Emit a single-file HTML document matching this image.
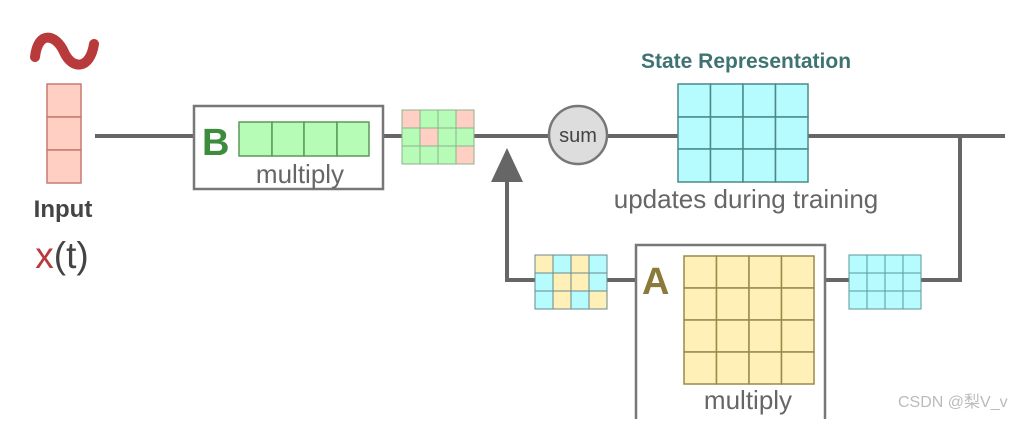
<!DOCTYPE html>
<html><head><meta charset="utf-8"><style>html,body{margin:0;padding:0;background:#fff}</style></head><body>
<svg width="1024" height="419" viewBox="0 0 1024 419" xmlns="http://www.w3.org/2000/svg" font-family="Liberation Sans, sans-serif">
<rect width="1024" height="419" fill="#fff"/>
<g stroke="#666" stroke-width="4" fill="none">
<line x1="95" y1="136" x2="1005" y2="136"/>
<polyline points="960,136 960,280 920,280"/>
<line x1="825" y1="280" x2="849" y2="280"/>
<line x1="607" y1="280" x2="635" y2="280"/>
<polyline points="535,280 507,280 507,178"/>
</g>
<polygon points="507,148 491,182 523,182" fill="#666"/>
<path d="M35,57 C38,30 56,34 64,52 C72,70 90,70 94,44" stroke="#b83a3a" stroke-width="10" fill="none" stroke-linecap="round"/>
<g stroke="#c87a70" stroke-width="1.5" fill="#ffcfc4">
<rect x="47" y="84" width="34" height="33"/><rect x="47" y="117" width="34" height="33"/><rect x="47" y="150" width="34" height="33"/>
</g>
<text x="63" y="217" text-anchor="middle" font-size="24" font-weight="bold" fill="#444">Input</text>
<text x="62" y="268" text-anchor="middle" font-size="37" fill="#444"><tspan fill="#b83a3a">x</tspan>(t)</text>
<rect x="194" y="106" width="189" height="83" fill="#fff" stroke="#777" stroke-width="2.5"/>
<text x="202" y="155" font-size="38" font-weight="bold" fill="#3d8c3d">B</text>
<g stroke="#5a9a5a" stroke-width="1.5" fill="#b6fbb6">
<rect x="239" y="122" width="33" height="34"/><rect x="272" y="122" width="32" height="34"/><rect x="304" y="122" width="33" height="34"/><rect x="337" y="122" width="32" height="34"/>
</g>
<text x="300" y="183" text-anchor="middle" font-size="26" fill="#666">multiply</text>
<g stroke="#8fb08f" stroke-width="1">
<rect x="402" y="110" width="18" height="18" fill="#ffcfc4"/><rect x="420" y="110" width="18" height="18" fill="#b6fbb6"/><rect x="438" y="110" width="18" height="18" fill="#b6fbb6"/><rect x="456" y="110" width="18" height="18" fill="#ffcfc4"/>
<rect x="402" y="128" width="18" height="18" fill="#b6fbb6"/><rect x="420" y="128" width="18" height="18" fill="#ffcfc4"/><rect x="438" y="128" width="18" height="18" fill="#b6fbb6"/><rect x="456" y="128" width="18" height="18" fill="#b6fbb6"/>
<rect x="402" y="146" width="18" height="18" fill="#b6fbb6"/><rect x="420" y="146" width="18" height="18" fill="#b6fbb6"/><rect x="438" y="146" width="18" height="18" fill="#b6fbb6"/><rect x="456" y="146" width="18" height="18" fill="#ffcfc4"/>
</g>
<circle cx="578" cy="135" r="29" fill="#ddd" stroke="#777" stroke-width="2.5"/>
<text x="578" y="142" text-anchor="middle" font-size="20" fill="#444">sum</text>
<text x="746" y="68" text-anchor="middle" font-size="21" font-weight="bold" fill="#3f7272">State Representation</text>
<g stroke="#4c8a8a" stroke-width="1.5" fill="#b6fbfd">
<rect x="678" y="84" width="32.5" height="33"/><rect x="710.5" y="84" width="32.5" height="33"/><rect x="743" y="84" width="32.5" height="33"/><rect x="775.5" y="84" width="32.5" height="33"/>
<rect x="678" y="117" width="32.5" height="32"/><rect x="710.5" y="117" width="32.5" height="32"/><rect x="743" y="117" width="32.5" height="32"/><rect x="775.5" y="117" width="32.5" height="32"/>
<rect x="678" y="149" width="32.5" height="33"/><rect x="710.5" y="149" width="32.5" height="33"/><rect x="743" y="149" width="32.5" height="33"/><rect x="775.5" y="149" width="32.5" height="33"/>
</g>
<text x="746" y="208" text-anchor="middle" font-size="26" fill="#666">updates during training</text>
<g stroke="#6a8a8a" stroke-width="1">
<rect x="535" y="255" width="18" height="18" fill="#fff0b8"/><rect x="553" y="255" width="18" height="18" fill="#b6fbfd"/><rect x="571" y="255" width="18" height="18" fill="#fff0b8"/><rect x="589" y="255" width="18" height="18" fill="#b6fbfd"/>
<rect x="535" y="273" width="18" height="18" fill="#b6fbfd"/><rect x="553" y="273" width="18" height="18" fill="#fff0b8"/><rect x="571" y="273" width="18" height="18" fill="#fff0b8"/><rect x="589" y="273" width="18" height="18" fill="#b6fbfd"/>
<rect x="535" y="291" width="18" height="18" fill="#b6fbfd"/><rect x="553" y="291" width="18" height="18" fill="#fff0b8"/><rect x="571" y="291" width="18" height="18" fill="#b6fbfd"/><rect x="589" y="291" width="18" height="18" fill="#fff0b8"/>
</g>
<rect x="636" y="245" width="189" height="176" fill="#fff" stroke="#777" stroke-width="2.5"/>
<text x="642" y="294" font-size="38" font-weight="bold" fill="#8c7a3a">A</text>
<g stroke="#9a8a4a" stroke-width="1.5" fill="#fff0b8">
<rect x="684" y="256" width="32.5" height="32"/><rect x="716.5" y="256" width="32.5" height="32"/><rect x="749" y="256" width="32.5" height="32"/><rect x="781.5" y="256" width="32.5" height="32"/>
<rect x="684" y="288" width="32.5" height="32"/><rect x="716.5" y="288" width="32.5" height="32"/><rect x="749" y="288" width="32.5" height="32"/><rect x="781.5" y="288" width="32.5" height="32"/>
<rect x="684" y="320" width="32.5" height="32"/><rect x="716.5" y="320" width="32.5" height="32"/><rect x="749" y="320" width="32.5" height="32"/><rect x="781.5" y="320" width="32.5" height="32"/>
<rect x="684" y="352" width="32.5" height="32"/><rect x="716.5" y="352" width="32.5" height="32"/><rect x="749" y="352" width="32.5" height="32"/><rect x="781.5" y="352" width="32.5" height="32"/>
</g>
<text x="748" y="409" text-anchor="middle" font-size="26" fill="#666">multiply</text>
<g stroke="#5a9a9a" stroke-width="1" fill="#b6fbfd">
<rect x="849" y="255" width="18" height="18"/><rect x="867" y="255" width="18" height="18"/><rect x="885" y="255" width="18" height="18"/><rect x="903" y="255" width="18" height="18"/>
<rect x="849" y="273" width="18" height="18"/><rect x="867" y="273" width="18" height="18"/><rect x="885" y="273" width="18" height="18"/><rect x="903" y="273" width="18" height="18"/>
<rect x="849" y="291" width="18" height="18"/><rect x="867" y="291" width="18" height="18"/><rect x="885" y="291" width="18" height="18"/><rect x="903" y="291" width="18" height="18"/>
</g>
<text x="898" y="407" font-size="16" fill="#bbb" font-family="Liberation Sans, Noto Sans CJK SC, sans-serif">CSDN @梨V_v</text>
</svg>
</body></html>
